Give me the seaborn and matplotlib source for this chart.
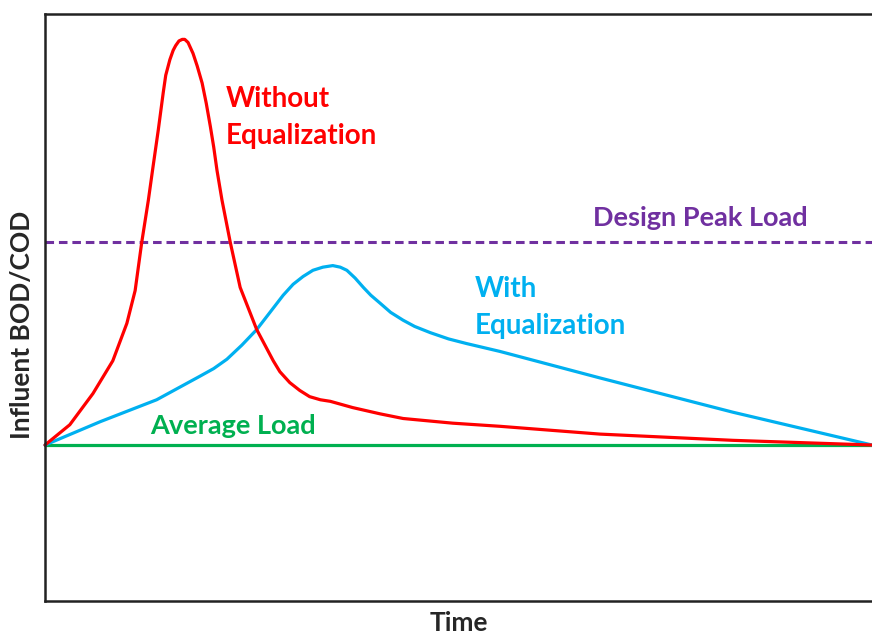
import numpy as np
import pandas as pd
import matplotlib.pyplot as plt
import seaborn as sns

# influent load curves (time in arbitrary units, load relative to average)
time_without = [0, 0.30, 0.58, 0.82, 0.99, 1.09, 1.17, 1.25, 1.30, 1.37, 1.43, 1.46, 1.51, 1.55,
                1.58, 1.62, 1.66, 1.69, 1.73, 1.79, 1.84, 1.90, 1.95, 2.00, 2.04, 2.08, 2.14,
                2.24, 2.36, 2.56, 2.76, 2.84, 2.96, 3.08, 3.20, 3.33, 3.45, 3.72, 4.05, 4.33,
                4.93, 5.50, 6.71, 8.32, 10.0]
load_without = [1.00, 1.13, 1.33, 1.54, 1.78, 1.99, 2.30, 2.57, 2.76, 3.02, 3.26, 3.37, 3.47, 3.53,
                3.56, 3.59, 3.60, 3.60, 3.58, 3.51, 3.43, 3.32, 3.19, 3.04, 2.91, 2.76, 2.57,
                2.30, 2.01, 1.74, 1.54, 1.47, 1.40, 1.35, 1.31, 1.29, 1.28, 1.24, 1.20, 1.17,
                1.14, 1.12, 1.07, 1.03, 1.00]

time_with = [0, 0.67, 1.35, 1.87, 2.04, 2.20, 2.38, 2.56, 2.72, 2.88, 3.00, 3.12, 3.24, 3.36,
             3.48, 3.57, 3.65, 3.75, 3.85, 3.94, 4.05, 4.18, 4.33, 4.47, 4.66, 4.88, 5.10,
             5.50, 6.71, 8.32, 10.0]
load_with = [1.00, 1.15, 1.29, 1.44, 1.49, 1.55, 1.64, 1.74, 1.85, 1.96, 2.03, 2.08, 2.12, 2.14,
             2.15, 2.14, 2.12, 2.07, 2.01, 1.96, 1.91, 1.85, 1.80, 1.76, 1.72, 1.68, 1.65,
             1.60, 1.43, 1.21, 1.00]

time_range = [0, 10.0]
average_load = [1.0, 1.0]
design_peak = [2.30, 2.30]

sns.set_style('white')
plt.rcParams['font.family'] = ['Lato', 'DejaVu Sans']

fig = plt.figure(figsize=(8.72, 6.34), dpi=100)
ax = fig.add_axes([0.0516, 0.052, 0.9484, 0.926])

sns.lineplot(x=time_range, y=average_load, color='#00B050', lw=2.3, ax=ax)
sns.lineplot(x=time_range, y=design_peak, color='#7030A0', lw=2.2, ax=ax,
             dashes=False).lines[-1].set_dashes((2.8, 1.6))
sns.lineplot(x=time_with, y=load_with, color='#00B0F0', lw=2.3, ax=ax)
sns.lineplot(x=time_without, y=load_without, color='#FF0000', lw=2.3, ax=ax)
for ln in ax.lines:
    ln.set_solid_joinstyle('round')
    ln.set_clip_on(False)

ax.text(2.18, 3.10, 'Without\nEqualization', color='#FF0000', fontsize=20, fontweight='bold',
        va='center', ha='left', linespacing=1.5)
ax.text(5.20, 1.88, 'With\nEqualization', color='#00B0F0', fontsize=20, fontweight='bold',
        va='center', ha='left', linespacing=1.5)
ax.text(6.63, 2.455, 'Design Peak Load', color='#7030A0', fontsize=19.5, fontweight='bold',
        va='center', ha='left')
ax.text(1.27, 1.12, 'Average Load', color='#00B050', fontsize=19.5, fontweight='bold',
        va='center', ha='left')

ax.set_xlim(0, 10)
ax.set_ylim(0, 3.763)
ax.set_xticks([])
ax.set_yticks([])
ax.set_xlabel('Time', fontsize=19, fontweight='bold', labelpad=7)
ax.set_ylabel('Influent BOD/COD', fontsize=19, fontweight='bold')
ax.yaxis.set_label_coords(-0.013, 0.47)
ax.spines['right'].set_visible(False)
for s in ['left', 'top', 'bottom']:
    ax.spines[s].set_color('#222222')
    ax.spines[s].set_linewidth(1.8)

fig.savefig('out.png', dpi=100)
